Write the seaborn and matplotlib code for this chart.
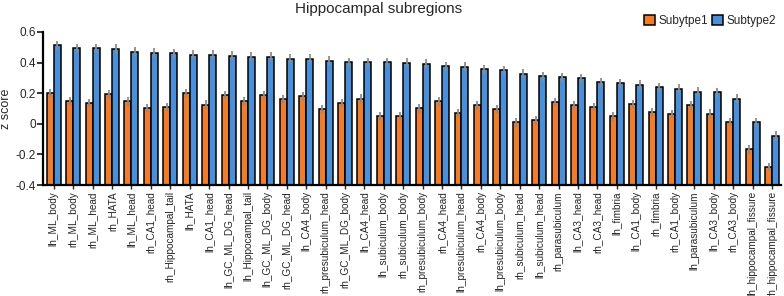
import numpy as np
import pandas as pd
import seaborn as sns
import matplotlib.pyplot as plt

# subregion names, in the order they are plotted
regions = ["lh_ML_body", "rh_ML_body", "rh_ML_head", "rh_HATA", "lh_ML_head",
           "rh_CA1_head", "rh_Hippocampal_tail", "lh_HATA", "lh_CA1_head",
           "lh_GC_ML_DG_head", "lh_Hippocampal_tail", "lh_GC_ML_DG_body",
           "rh_GC_ML_DG_head", "lh_CA4_body", "rh_presubiculum_head",
           "rh_GC_ML_DG_body", "lh_CA4_head", "lh_subiculum_body",
           "rh_subiculum_body", "rh_presubiculum_body", "rh_CA4_head",
           "lh_presubiculum_head", "rh_CA4_body", "lh_presubiculum_body",
           "rh_subiculum_head", "lh_subiculum_head", "rh_parasubiculum",
           "lh_CA3_head", "rh_CA3_head", "lh_fimbria", "lh_CA1_body",
           "rh_fimbria", "rh_CA1_body", "lh_parasubiculum", "lh_CA3_body",
           "rh_CA3_body", "lh_hippocampal_fissure", "rh_hippocampal_fissure"]

subtype1 = [0.200, 0.150, 0.135, 0.193, 0.146, 0.104, 0.111, 0.202, 0.126,
            0.187, 0.148, 0.187, 0.163, 0.180, 0.096, 0.135, 0.165, 0.052,
            0.048, 0.100, 0.146, 0.070, 0.120, 0.096, 0.009, 0.022, 0.141,
            0.120, 0.109, 0.048, 0.128, 0.076, 0.063, 0.122, 0.067, 0.011,
            -0.167, -0.283]
subtype2 = [0.513, 0.493, 0.493, 0.489, 0.472, 0.465, 0.461, 0.452, 0.452,
            0.446, 0.439, 0.437, 0.426, 0.426, 0.411, 0.402, 0.402, 0.402,
            0.398, 0.393, 0.376, 0.372, 0.357, 0.350, 0.328, 0.311, 0.304,
            0.298, 0.270, 0.265, 0.254, 0.239, 0.228, 0.209, 0.207, 0.165,
            0.011, -0.080]
err1 = [0.028] * len(regions)
err2 = [0.030] * len(regions)

groups = ["Subytpe1", "Subtype2"]
colors = ["#EE7D2E", "#4A8FD8"]
base = -0.4

df = pd.DataFrame({
    "region": regions * 2,
    "z": subtype1 + subtype2,
    "group": [groups[0]] * len(regions) + [groups[1]] * len(regions),
})

sns.set_style("ticks")
plt.rcParams["font.family"] = ["Liberation Sans", "DejaVu Sans"]

fig = plt.figure(figsize=(7.84, 2.96), dpi=100)
ax = fig.add_axes([0.055, 0.375, 0.941, 0.517])

sns.barplot(data=df, x="region", y="z", hue="group", palette=colors,
            saturation=1, errorbar=None, width=0.72, edgecolor="black",
            linewidth=1.1, ax=ax)

# bars start from the bottom of the axis, not from zero
vals = [subtype1, subtype2]
errs = [err1, err2]
for cont, v, e in zip(ax.containers, vals, errs):
    xs = []
    for bar, val in zip(cont, v):
        bar.set_y(base)
        bar.set_height(val - base)
        xs.append(bar.get_x() + bar.get_width() / 2)
    ax.errorbar(xs, v, yerr=e, fmt="none", ecolor="#8c8c8c",
                elinewidth=1.3, capsize=0, zorder=5)

ax.set_ylim(-0.4, 0.6)
ax.set_xlim(-0.55, len(regions) - 0.55)
ax.set_yticks([-0.4, -0.2, 0, 0.2, 0.4, 0.6])
ax.set_yticklabels(["-0.4", "-0.2", "0", "0.2", "0.4", "0.6"], fontsize=8.5)
ax.set_xticks(range(len(regions)))
ax.set_xticklabels(regions, rotation=90, fontsize=7.2)
ax.set_xlabel("")
ax.set_ylabel("z score", fontsize=9, labelpad=3)
ax.tick_params(axis="y", length=4, width=1.3, pad=1)
ax.tick_params(axis="x", length=3, width=1, pad=1.5)
for s in ["top", "right"]:
    ax.spines[s].set_visible(False)
for s in ["left", "bottom"]:
    ax.spines[s].set_linewidth(1.6)
    ax.spines[s].set_color("black")

leg = ax.legend(loc="center right", bbox_to_anchor=(1.0, 1.072), ncol=2,
                frameon=False, fontsize=8.5, handlelength=0.9,
                handleheight=0.9, handletextpad=0.3, columnspacing=0.4,
                borderaxespad=0)

fig.text(379 / 784, 1 - 9 / 296, "Hippocampal subregions", ha="center",
         va="center", fontsize=11)

fig.savefig("out.png", dpi=100)
